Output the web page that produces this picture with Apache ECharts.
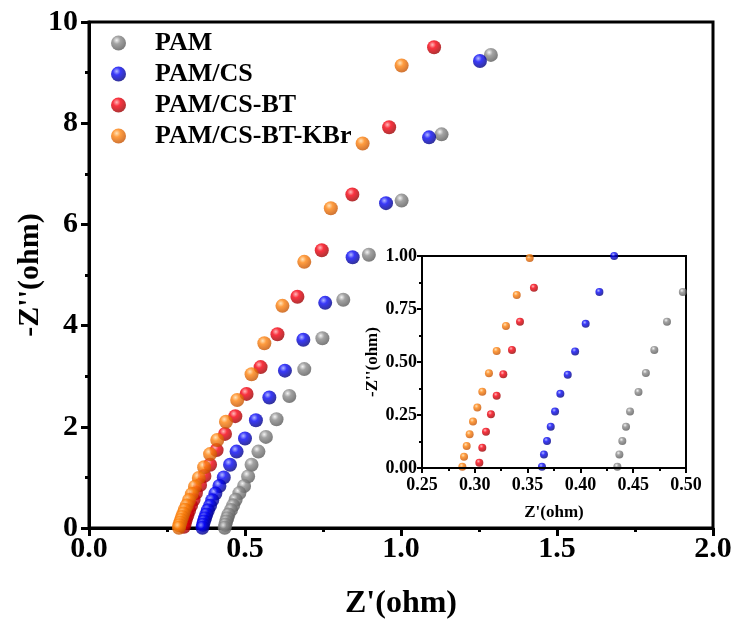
<!DOCTYPE html>
<html><head><meta charset="utf-8">
<script src="https://cdn.jsdelivr.net/npm/echarts@6/dist/echarts.min.js"></script>
<style>html,body{margin:0;padding:0;background:#fff}#c{width:735px;height:621px}</style>
</head><body><div id="c"></div>
<script>
const seriesNames = ['PAM', 'PAM/CS', 'PAM/CS-BT', 'PAM/CS-BT-KBr'];
const xPAM = [1.288,1.130,1.002,0.897,0.815,0.748,0.690,0.642,0.601,0.567,0.543,0.521,0.510,0.497,0.482,0.470,0.462,0.455,0.447,0.4432,0.4397,0.4369,0.435];
const yPAM = [9.35,7.78,6.47,5.40,4.51,3.75,3.14,2.61,2.15,1.80,1.51,1.25,1.02,0.83,0.69,0.557,0.448,0.358,0.266,0.195,0.127,0.064,0.006];
const xCS = [1.253,1.090,0.952,0.845,0.757,0.687,0.628,0.578,0.535,0.500,0.473,0.452,0.432,0.418,0.405,0.395,0.388,0.381,0.376,0.3719,0.3684,0.3655,0.3636];
const yCS = [9.23,7.72,6.42,5.35,4.45,3.72,3.11,2.58,2.13,1.77,1.51,1.25,1.0,0.83,0.68,0.55,0.44,0.35,0.266,0.195,0.127,0.064,0.006];
const xBT = [1.106,0.962,0.844,0.746,0.668,0.604,0.550,0.505,0.469,0.436,0.409,0.388,0.370,0.356,0.3428,0.3352,0.327,0.3207,0.3153,0.3106,0.3071,0.3043];
const yBT = [9.50,7.92,6.59,5.49,4.57,3.83,3.18,2.65,2.21,1.86,1.54,1.25,1.03,0.85,0.690,0.557,0.442,0.341,0.253,0.171,0.096,0.025];
const xKBr = [1.002,0.877,0.775,0.690,0.620,0.562,0.521,0.475,0.439,0.411,0.388,0.369,0.352,0.3397,0.3295,0.3207,0.3134,0.3071,0.3024,0.2983,0.2951,0.2923,0.2898,0.2882];
const yKBr = [9.14,7.60,6.32,5.26,4.39,3.65,3.04,2.53,2.10,1.74,1.46,1.20,0.99,0.816,0.670,0.552,0.447,0.360,0.285,0.219,0.159,0.104,0.053,0.006];
const mainXTicks = [0, 2, 0.5];
const mainYTicks = [0, 10, 2];
const insetXTicks = [0.25, 0.5, 0.05];
const insetYTicks = [0, 1, 0.25];

const xs = [xPAM, xCS, xBT, xKBr];
const ys = [yPAM, yCS, yBT, yKBr];
const palette = [
  ['#f0f0f0', '#8c8c8c', '#565656'],
  ['#a0a8ff', '#0808f8', '#000078'],
  ['#ffa8a8', '#f80010', '#940000'],
  ['#ffdca8', '#ff8410', '#c04e00']
];
function sphere(p) {
  return { type: 'radial', x: 0.38, y: 0.32, r: 0.72,
    colorStops: [{offset: 0, color: p[0]}, {offset: 0.35, color: p[1]}, {offset: 1, color: p[2]}] };
}
function pts(i) { return xs[i].map((v, k) => [v, ys[i][k]]); }

const font = 'Liberation Serif';
const series = [];
for (let i = 0; i < 4; i++) {
  series.push({ name: seriesNames[i], type: 'scatter', xAxisIndex: 0, yAxisIndex: 0,
    symbolSize: 14, data: pts(i), itemStyle: { color: sphere(palette[i]) }, z: 3 });
}
for (let i = 0; i < 4; i++) {
  series.push({ name: seriesNames[i], type: 'scatter', xAxisIndex: 1, yAxisIndex: 1,
    symbolSize: 8, data: pts(i), clip: true, itemStyle: { color: sphere(palette[i]) }, z: 5 });
}

function axisCommon(lw, tickLen, minorLen, fs, margin, digits) {
  return {
    axisLine: { show: true, onZero: false, lineStyle: { color: '#000', width: lw } },
    axisTick: { show: true, inside: false, length: tickLen, lineStyle: { color: '#000', width: lw } },
    minorTick: { show: true, splitNumber: 2, length: minorLen, lineStyle: { color: '#000', width: lw } },
    splitLine: { show: false },
    axisLabel: { color: '#000', fontFamily: font, fontWeight: 'bold', fontSize: fs, margin: margin,
      formatter: v => digits === null ? String(v) : Number(v).toFixed(digits) },
    nameTextStyle: { color: '#000', fontFamily: font, fontWeight: 'bold' }
  };
}

const chart = echarts.init(document.getElementById('c'), null, { renderer: 'canvas' });
chart.setOption({
  animation: false,
  backgroundColor: '#fff',
  grid: [
    { left: 89, top: 22, right: 22, bottom: 93, show: true, borderColor: '#000', borderWidth: 3,
      backgroundColor: 'transparent', outerBoundsMode: 'none', containLabel: false },
    { left: 422, top: 256, width: 264, height: 212, show: true, borderColor: '#000', borderWidth: 2,
      backgroundColor: '#fff', z: 4, outerBoundsMode: 'none', containLabel: false }
  ],
  legend: {
    orient: 'vertical', left: 106, top: 25, itemWidth: 15, itemHeight: 15, itemGap: 5,
    data: seriesNames, icon: 'circle',
    textStyle: { fontFamily: font, fontWeight: 'bold', fontSize: 26, color: '#000', lineHeight: 26, padding: [0, 0, 0, 24] }
  },
  xAxis: [
    Object.assign(axisCommon(3, 8, 4, 30, 6, 1), {
      type: 'value', gridIndex: 0, min: mainXTicks[0], max: mainXTicks[1], interval: mainXTicks[2],
      name: "Z'(ohm)", nameLocation: 'middle', nameGap: 60, nameMoveOverlap: false,
      nameTextStyle: { color: '#000', fontFamily: font, fontWeight: 'bold', fontSize: 32 } }),
    Object.assign(axisCommon(2, 5, 3, 18, 8, 2), {
      type: 'value', gridIndex: 1, min: insetXTicks[0], max: insetXTicks[1], interval: insetXTicks[2],
      name: "Z'(ohm)", nameLocation: 'middle', nameGap: 36, z: 6,
      nameTextStyle: { color: '#000', fontFamily: font, fontWeight: 'bold', fontSize: 17 } })
  ],
  yAxis: [
    Object.assign(axisCommon(3, 8, 4, 30, 11, null), {
      type: 'value', gridIndex: 0, min: mainYTicks[0], max: mainYTicks[1], interval: mainYTicks[2],
      name: "-Z''(ohm)", nameLocation: 'middle', nameGap: 44, nameMoveOverlap: false,
      nameTextStyle: { color: '#000', fontFamily: font, fontWeight: 'bold', fontSize: 30 } }),
    Object.assign(axisCommon(2, 5, 3, 18, 5, 2), {
      type: 'value', gridIndex: 1, min: insetYTicks[0], max: insetYTicks[1], interval: insetYTicks[2],
      name: "-Z''(ohm)", nameLocation: 'middle', nameGap: 41, z: 6,
      nameTextStyle: { color: '#000', fontFamily: font, fontWeight: 'bold', fontSize: 17 } })
  ],
  series: series
});
</script></body></html>
